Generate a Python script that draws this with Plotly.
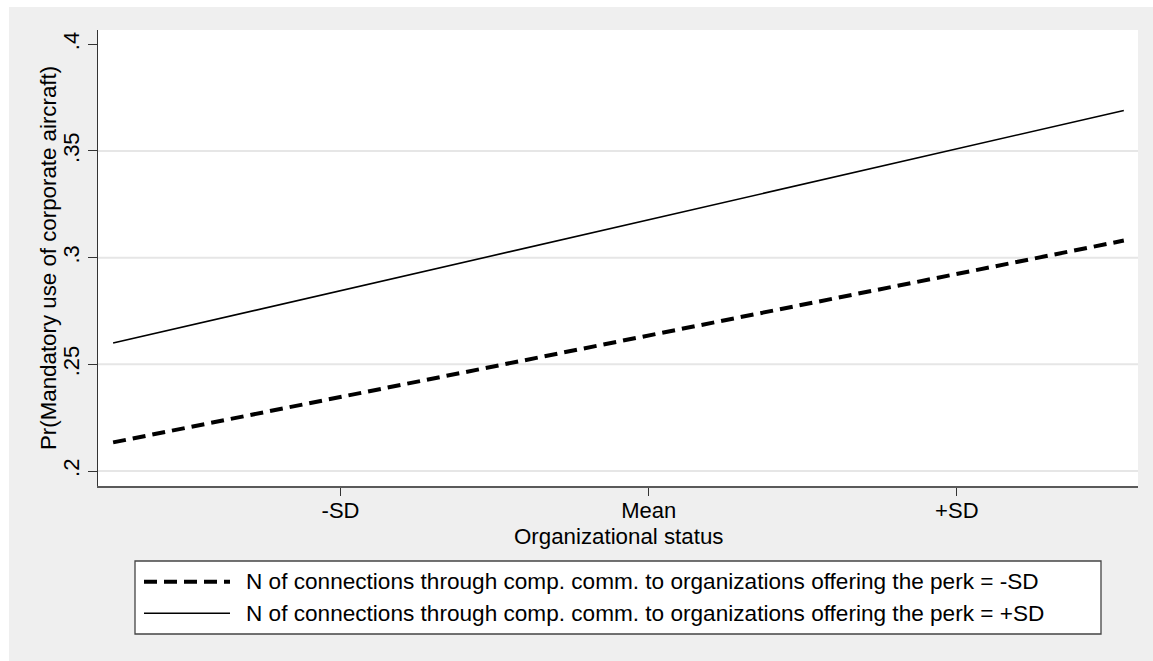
import plotly.graph_objects as go

# Predicted probabilities across organizational status (in SD units from the mean)
status_x = [-1.738, 1.542]
pr_low_conn = [0.2134, 0.308]    # connections = -SD
pr_high_conn = [0.260, 0.369]    # connections = +SD

series_names = [
    "N of connections through comp. comm. to organizations offering the perk = -SD",
    "N of connections through comp. comm. to organizations offering the perk = +SD",
]

x_title = "Organizational status"
y_title = "Pr(Mandatory use of corporate aircraft)"
x_tickvals = [-1, 0, 1]
x_ticktext = ["-SD", "Mean", "+SD"]
y_tickvals = [0.2, 0.25, 0.3, 0.35, 0.4]
y_ticktext = [".2", ".25", ".3", ".35", ".4"]
grid_vals = y_tickvals[:-1]

W, H = 1153, 661
L, R, T, B = 98, 15, 30, 175
PW, PH = W - L - R, H - T - B
FONT = "Liberation Sans, Arial, sans-serif"


def px_x(px):
    return (px - L) / PW


def px_y(py):
    return (H - B - py) / PH


fig = go.Figure()
fig.add_trace(go.Scatter(
    x=status_x, y=pr_low_conn, mode="lines", name=series_names[0],
    line=dict(color="black", width=4, dash="13px,7px"), showlegend=False,
))
fig.add_trace(go.Scatter(
    x=status_x, y=pr_high_conn, mode="lines", name=series_names[1],
    line=dict(color="black", width=1.6), showlegend=False,
))

shapes = []
# white strips along top and left edge of the page
shapes.append(dict(type="rect", xref="paper", yref="paper", layer="below",
                   x0=px_x(0), x1=px_x(W), y0=px_y(7), y1=px_y(0),
                   fillcolor="white", line=dict(width=0)))
shapes.append(dict(type="rect", xref="paper", yref="paper", layer="below",
                   x0=px_x(0), x1=px_x(9), y0=px_y(H), y1=px_y(0),
                   fillcolor="white", line=dict(width=0)))
# horizontal gridlines (none at the top tick)
for g in grid_vals:
    shapes.append(dict(type="line", xref="paper", yref="y", layer="below",
                       x0=0, x1=1, y0=g, y1=g,
                       line=dict(color="#e6e6e6", width=2)))

# legend box
shapes.append(dict(type="rect", xref="paper", yref="paper",
                   x0=px_x(135), x1=px_x(1101), y0=px_y(634), y1=px_y(561),
                   fillcolor="white", line=dict(color="#444444", width=1.3)))
row_y = [581.7, 613.3]
styles = [dict(color="black", width=4, dash="13px,7px"),
          dict(color="black", width=1.6)]
annotations = []
for ry, st, name in zip(row_y, styles, series_names):
    shapes.append(dict(type="line", xref="paper", yref="paper",
                       x0=px_x(144), x1=px_x(230), y0=px_y(ry), y1=px_y(ry),
                       line=st))
    annotations.append(dict(xref="paper", yref="paper", x=px_x(244), y=px_y(ry),
                            xanchor="left", yanchor="middle", showarrow=False,
                            text=name, font=dict(family=FONT, size=22.6, color="black")))

# axis titles
annotations.append(dict(xref="paper", yref="paper", x=0.5, y=px_y(536.5),
                        xanchor="center", yanchor="middle", showarrow=False,
                        text=x_title, font=dict(family=FONT, size=22.3, color="black")))
annotations.append(dict(xref="paper", yref="paper", x=px_x(48), y=0.5,
                        xanchor="center", yanchor="middle", showarrow=False,
                        textangle=-90,
                        text=y_title, font=dict(family=FONT, size=22.3, color="black")))

fig.update_layout(
    width=W, height=H,
    margin=dict(l=L, r=R, t=T, b=B, autoexpand=False),
    paper_bgcolor="#efefef",
    plot_bgcolor="white",
    font=dict(family=FONT, size=22, color="black"),
    shapes=shapes,
    annotations=annotations,
    showlegend=False,
    xaxis=dict(
        range=[-1.787, 1.588], tickvals=x_tickvals, ticktext=x_ticktext,
        showgrid=False, zeroline=False,
        showline=True, linecolor="#5a5a5a", linewidth=2,
        ticks="outside", ticklen=8, tickwidth=1, tickcolor="#333333",
        ticklabelstandoff=-4,
        tickfont=dict(family=FONT, size=22),
    ),
    yaxis=dict(
        range=[0.19297, 0.4067], tickvals=y_tickvals, ticktext=y_ticktext,
        showgrid=False, zeroline=False,
        showline=True, linecolor="#333333", linewidth=1,
        ticks="outside", ticklen=9, tickwidth=1, tickcolor="#333333",
        tickangle=-90,
        tickfont=dict(family=FONT, size=22),
    ),
)

fig.write_html("out.html")
